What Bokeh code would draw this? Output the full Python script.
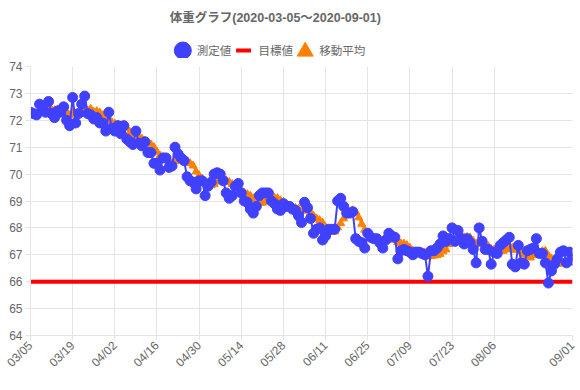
import math
import pandas as pd
from bokeh.plotting import figure
from bokeh.layouts import column
from bokeh.models import Range1d, FixedTicker, ColumnDataSource
from bokeh.core.properties import value
from bokeh.embed import file_html
from bokeh.resources import INLINE

# ---- data ----
start_date = "2020-03-05"
weights = [
    72.3, 72.25, 72.2, 72.6, 72.45, 72.3, 72.7, 72.25, 72.1, 72.35,
    72.3, 72.5, 72.0, 71.8, 72.85, 71.9, 72.25, 72.6, 72.9, 72.25,
    72.2, 72.05, 72.1, 71.9, 71.9, 71.6, 72.3, 71.7, 71.6, 71.8,
    71.5, 71.8, 71.3, 71.2, 71.1, 71.6, 71.15, 71.05, 71.2, 70.8,
    70.8, 70.4, 70.4, 70.15, 70.6, 70.6, 70.25, 70.3, 71.0, 70.75,
    70.6, 70.5, 69.9, 69.75, 69.7, 69.45, 69.75, 69.75, 69.2, 69.55,
    69.7, 70.0, 70.05, 70.0, 69.75, 69.3, 69.1, 69.2, 69.55, 69.65,
    69.3, 69.0, 68.95, 68.7, 68.55, 68.8, 69.2, 69.3, 69.3, 69.3,
    69.0, 68.9, 68.7, 68.65, 68.9, 68.8, 68.8, 68.7, 68.65, 68.45,
    68.2, 68.95, 68.75, 68.35, 67.8, 67.95, 68.0, 67.55, 67.7, 67.95,
    67.95, 67.95, 69.0, 69.1, 68.8, 68.55, 68.55, 68.6, 67.6, 67.5,
    67.45, 67.25, 67.8, 67.65, 67.6, 67.6, 67.45, 67.25, 67.55, 67.8,
    67.7, 67.65, 66.85, 67.15, 67.2, 67.15, 67.1, 67.0, 67.1, 67.1,
    67.05, 67.0, 66.2, 67.15, 67.15, 67.25, 67.4, 67.7, 67.5, 67.6,
    68.0, 67.5, 67.9, 67.6, 67.4, 67.6, 67.45, 67.2, 66.7, 68.0,
    67.5, 67.2, 67.2, 66.65, 67.1, 67.05, 67.35, 67.45, 67.55, 67.65,
    66.65, 66.55, 67.35, 66.7, 66.65, 67.15, 67.2, 67.25, 67.6, 67.05,
    67.05, 66.7, 65.95, 66.4, 66.65, 66.85, 67.1, 67.15, 66.7, 67.1,
    66.8,
]
target_weight = 66
ma_window = 7
tick_index = [0, 14, 28, 42, 56, 70, 84, 98, 112, 126, 140, 154, 180]
tick_labels = ["03/05", "03/19", "04/02", "04/16", "04/30", "05/14", "05/28",
               "06/11", "06/25", "07/09", "07/23", "08/06", "09/01"]

title_text = "体重グラフ(2020-03-05～2020-09-01)"
series_names = ["測定値", "目標値", "移動平均"]

# ---- derived ----
n = len(weights)
dates = pd.date_range(start_date, periods=n)
idx = list(range(n))
target = [target_weight] * n
ma = pd.Series(weights).rolling(ma_window).mean()

src = ColumnDataSource(dict(x=idx[ma_window - 1:], m=ma.tolist()[ma_window - 1:]))
src_w = ColumnDataSource(dict(x=idx, w=weights, t=target))

FONT = "Liberation Sans, Noto Sans CJK JP"
BLUE = "#4040ff"
RED = "#ff0000"
ORANGE = "#ff8000"
GRID = "#e5e5e5"
TXT = "#666666"

# ---- header (title + legend) ----
HEAD_H = 58
head = figure(width=580, height=HEAD_H, output_backend="svg", toolbar_location=None,
              x_range=Range1d(0, 580), y_range=Range1d(HEAD_H, 0),
              x_axis_type=None, y_axis_type=None, min_border=0)
head.outline_line_color = None
head.grid.visible = False
head.text(x=[262], y=[17], text=[title_text], text_align="center", text_baseline="middle",
          text_font=value(FONT), text_font_size="12.5px", text_font_style="bold",
          text_color=TXT)
leg_y = 50
head.scatter(x=[163], y=[leg_y], marker="circle", size=17, color=BLUE)
head.text(x=[178], y=[leg_y], text=[series_names[0]], text_align="left",
          text_baseline="middle", text_font=value(FONT), text_font_size="11.5px",
          text_color=TXT)
head.segment(x0=[220], y0=[leg_y], x1=[236], y1=[leg_y], line_color=RED, line_width=4)
head.text(x=[244], y=[leg_y], text=[series_names[1]], text_align="left",
          text_baseline="middle", text_font=value(FONT), text_font_size="11.5px",
          text_color=TXT)
head.scatter(x=[294], y=[leg_y + 1], marker="triangle", size=16, color=ORANGE)
head.text(x=[309], y=[leg_y], text=[series_names[2]], text_align="left",
          text_baseline="middle", text_font=value(FONT), text_font_size="11.5px",
          text_color=TXT)

# ---- main plot ----
p = figure(width=580, height=390 - HEAD_H, output_backend="svg", toolbar_location=None,
           x_range=Range1d(0, n - 1), y_range=Range1d(64, 74),
           min_border_left=30, min_border_right=8, min_border_bottom=55,
           min_border_top=66 - HEAD_H)
p.outline_line_color = None
p.background_fill_color = "white"
p.border_fill_color = "white"

# moving average
p.line("x", "m", source=src, line_color=ORANGE, line_width=2)
p.scatter("x", "m", source=src, marker="triangle", size=8, color=ORANGE)
# target
p.line("x", "t", source=src_w, line_color=RED, line_width=4)
# measured
p.line("x", "w", source=src_w, line_color=BLUE, line_width=2)
p.scatter("x", "w", source=src_w, marker="circle", size=10, color=BLUE)

# axes
p.xaxis.ticker = FixedTicker(ticks=tick_index)
p.xaxis.major_label_overrides = {i: l for i, l in zip(tick_index, tick_labels)}
p.xaxis.major_label_orientation = math.pi / 4
p.yaxis.ticker = FixedTicker(ticks=list(range(64, 75)))
for ax in (p.xaxis, p.yaxis):
    ax.axis_line_color = GRID
    ax.major_tick_line_color = GRID
    ax.major_tick_out = 5
    ax.major_tick_in = 0
    ax.minor_tick_line_color = None
    ax.major_label_text_font = FONT
    ax.major_label_text_font_size = "12px"
    ax.major_label_text_color = TXT
    ax.major_label_standoff = 3
p.grid.grid_line_color = GRID
p.xgrid.ticker = FixedTicker(ticks=tick_index)

layout = column(head, p, spacing=0)
open("out.html", "w").write(file_html(layout, INLINE))
